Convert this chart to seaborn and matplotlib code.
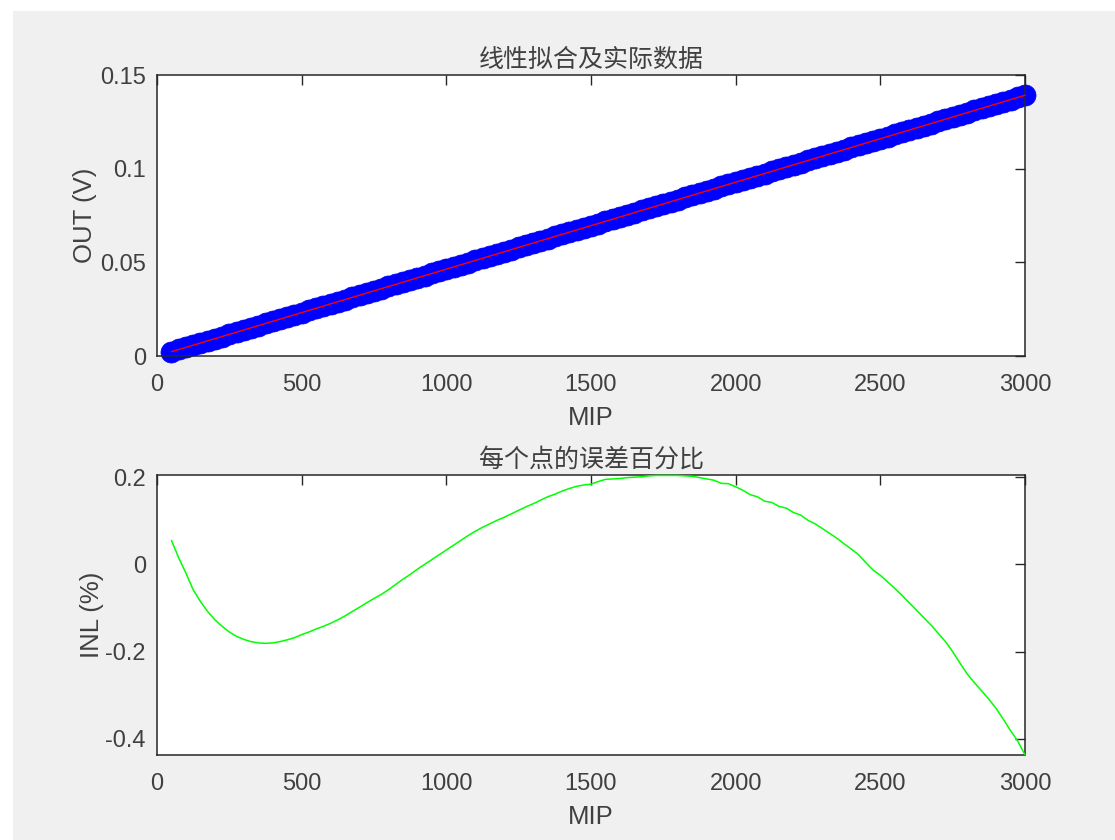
import numpy as np
import pandas as pd
import matplotlib
matplotlib.use("Agg")
import matplotlib.pyplot as plt
from matplotlib.patches import Rectangle
import seaborn as sns

# ---------------- data ----------------
mip = np.arange(50, 3001, 25)

out_v = [
    0.0023, 0.0035, 0.0046, 0.0058, 0.0069,
    0.0081, 0.0093, 0.0104, 0.0116, 0.0127,
    0.0139, 0.0151, 0.0162, 0.0174, 0.0185,
    0.0197, 0.0209, 0.0220, 0.0232, 0.0243,
    0.0255, 0.0267, 0.0278, 0.0290, 0.0301,
    0.0313, 0.0325, 0.0336, 0.0348, 0.0359,
    0.0371, 0.0383, 0.0394, 0.0406, 0.0417,
    0.0429, 0.0441, 0.0452, 0.0464, 0.0475,
    0.0487, 0.0499, 0.0510, 0.0522, 0.0533,
    0.0545, 0.0557, 0.0568, 0.0580, 0.0591,
    0.0603, 0.0615, 0.0626, 0.0638, 0.0649,
    0.0661, 0.0673, 0.0684, 0.0696, 0.0707,
    0.0719, 0.0731, 0.0742, 0.0754, 0.0765,
    0.0777, 0.0789, 0.0800, 0.0812, 0.0823,
    0.0835, 0.0847, 0.0858, 0.0870, 0.0881,
    0.0893, 0.0905, 0.0916, 0.0928, 0.0939,
    0.0951, 0.0963, 0.0974, 0.0986, 0.0997,
    0.1009, 0.1021, 0.1032, 0.1044, 0.1055,
    0.1067, 0.1079, 0.1090, 0.1102, 0.1113,
    0.1125, 0.1137, 0.1148, 0.1160, 0.1171,
    0.1183, 0.1195, 0.1206, 0.1218, 0.1229,
    0.1241, 0.1253, 0.1264, 0.1276, 0.1287,
    0.1299, 0.1311, 0.1322, 0.1334, 0.1345,
    0.1357, 0.1369, 0.1380, 0.1392,
]

inl_pct = [
    0.055, 0.015, -0.020, -0.058, -0.085, -0.108, -0.127, -0.142, -0.155, -0.165,
    -0.172, -0.177, -0.180, -0.181, -0.180, -0.177, -0.173, -0.168, -0.161, -0.155,
    -0.148, -0.142, -0.135, -0.127, -0.118, -0.108, -0.098, -0.088, -0.078, -0.069,
    -0.058, -0.046, -0.034, -0.023, -0.011, 0.000, 0.011, 0.022, 0.033, 0.044,
    0.055, 0.066, 0.076, 0.085, 0.093, 0.101, 0.108, 0.116, 0.124, 0.132,
    0.139, 0.147, 0.155, 0.161, 0.168, 0.174, 0.179, 0.182, 0.184, 0.190,
    0.195, 0.196, 0.197, 0.199, 0.200, 0.201, 0.203, 0.204, 0.204, 0.204,
    0.204, 0.203, 0.202, 0.199, 0.196, 0.193, 0.186, 0.185, 0.178, 0.170,
    0.160, 0.155, 0.145, 0.142, 0.133, 0.129, 0.119, 0.113, 0.101, 0.093,
    0.082, 0.071, 0.060, 0.047, 0.035, 0.022, 0.004, -0.013, -0.025, -0.040,
    -0.055, -0.071, -0.088, -0.105, -0.122, -0.139, -0.158, -0.177, -0.200, -0.226,
    -0.251, -0.271, -0.290, -0.309, -0.330, -0.355, -0.381, -0.405, -0.437,
]

title_top = "线性拟合及实际数据"
title_bottom = "每个点的误差百分比"
xlabel = "MIP"
ylabel_top = "OUT (V)"
ylabel_bottom = "INL (%)"
x_ticks = [0, 500, 1000, 1500, 2000, 2500, 3000]
y_ticks_top = [0, 0.05, 0.1, 0.15]
y_ticks_bottom = [-0.4, -0.2, 0, 0.2]

df = pd.DataFrame({"MIP": mip, "OUT": out_v, "INL": inl_pct})
coef = np.polyfit(df["MIP"], df["OUT"], 1)
df["FIT"] = np.polyval(coef, df["MIP"])

# ---------------- style ----------------
sns.set_theme(style="white")
plt.rcParams["font.family"] = ["Liberation Sans", "Noto Sans CJK SC", "DejaVu Sans"]
TXT = "#404040"
AX = "#262626"

fig = plt.figure(figsize=(11.15, 8.4), dpi=100, facecolor="white")
fig.patches.append(Rectangle((13 / 1115, 0), 1 - 13 / 1115, (840 - 11) / 840,
                             transform=fig.transFigure, facecolor="#f0f0f0",
                             edgecolor="none", zorder=-10))

ax1 = fig.add_axes([157 / 1115, (840 - 356) / 840, 868 / 1115, 281 / 840])
ax2 = fig.add_axes([157 / 1115, (840 - 755) / 840, 868 / 1115, 280 / 840])

sns.scatterplot(data=df, x="MIP", y="OUT", ax=ax1, color="#0000ff", s=230,
                edgecolor="#0000ff", linewidth=0.5, zorder=2, clip_on=False)
sns.lineplot(data=df, x="MIP", y="FIT", ax=ax1, color="#ff0000", lw=1.0,
             zorder=3, clip_on=False)
sns.lineplot(data=df, x="MIP", y="INL", ax=ax2, color="#00ff00", lw=1.1,
             zorder=3, clip_on=False)

ax1.set_xlim(0, 3000)
ax1.set_ylim(0, 0.15)
ax2.set_xlim(0, 3000)
ax2.set_ylim(-0.437, 0.205)

for ax, yt, ttl, yl, ylp in [(ax1, y_ticks_top, title_top, ylabel_top, 2),
                             (ax2, y_ticks_bottom, title_bottom, ylabel_bottom, 1)]:
    ax.set_facecolor("white")
    ax.set_xticks(x_ticks)
    ax.set_xticklabels([str(v) for v in x_ticks])
    ax.set_yticks(yt)
    ax.set_yticklabels([("%g" % v) for v in yt])
    ax.tick_params(direction="in", length=7, width=1, color=AX, labelsize=17,
                   labelcolor=TXT, top=True, right=True)
    ax.tick_params(axis="x", pad=13)
    ax.tick_params(axis="y", pad=8)
    for s in ax.spines.values():
        s.set_visible(True)
        s.set_color(AX)
        s.set_linewidth(1.1)
    ax.set_title(ttl, fontsize=18, color=TXT, pad=6)
    ax.set_xlabel(xlabel, fontsize=18.5, color=TXT, labelpad=7)
    ax.set_ylabel(yl, fontsize=18.5, color=TXT, labelpad=ylp)
    ax.grid(False)

fig.savefig("out.png", dpi=100, facecolor=fig.get_facecolor())
